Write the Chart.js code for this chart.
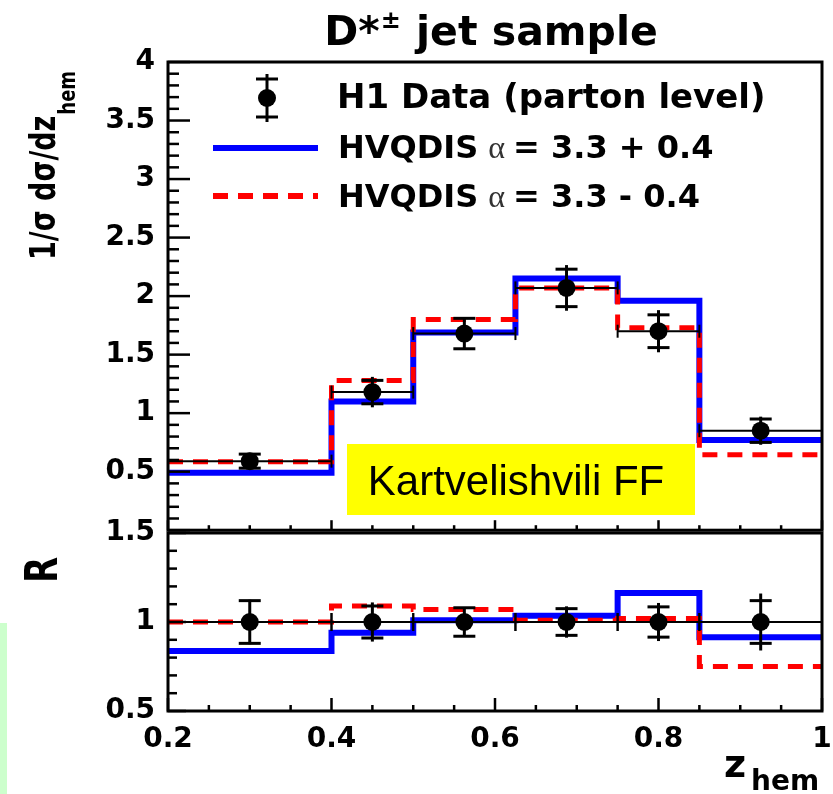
<!DOCTYPE html>
<html>
<head>
<meta charset="UTF-8">
<title>D*± jet sample</title>
<script src="https://cdn.jsdelivr.net/npm/chart.js@4"></script>
<style>
  body { margin: 0; background: #fff; }
  #wrap { position: relative; width: 833px; height: 794px; overflow: hidden; }
  #greenBar { position: absolute; left: 0; top: 623px; width: 7px; height: 171px; background: #ccffcc; }
  #topPanel { position: absolute; left: 0; top: 0; }
  #ratioPanel { position: absolute; left: 0; top: 500px; }
</style>
</head>
<body>
<div id="wrap">
  <div id="greenBar"></div>
  <canvas id="topPanel" width="833" height="560"></canvas>
  <canvas id="ratioPanel" width="833" height="294"></canvas>
</div>
<script>
// z_hem binning
const binEdges = [0.2, 0.4, 0.5, 0.625, 0.75, 0.85, 1.0];
const binCentres = [0.3, 0.45, 0.5625, 0.6875, 0.8, 0.925];

// 1/sigma dsigma/dz_hem
const h1Data = [0.59, 1.18, 1.68, 2.07, 1.70, 0.85];
const h1Stat = [0.06, 0.10, 0.13, 0.16, 0.14, 0.10];
const h1Tot = [0.07, 0.13, 0.135, 0.195, 0.18, 0.12];
const hvqUp = [0.49, 1.10, 1.69, 2.15, 1.96, 0.77];     // alpha = 3.3 + 0.4
const hvqDown = [0.585, 1.28, 1.80, 2.07, 1.73, 0.645]; // alpha = 3.3 - 0.4

// ratio R (to data)
const ratioData = [1, 1, 1, 1, 1, 1];
const ratioStat = [0.12, 0.09, 0.08, 0.075, 0.085, 0.12];
const ratioTot = [0.125, 0.11, 0.08, 0.088, 0.107, 0.16];
const ratioUp = [0.837, 0.94, 1.01, 1.035, 1.163, 0.915];
const ratioDown = [1.0, 1.09, 1.07, 1.01, 1.02, 0.75];

// axis ticks
const xTicks = [0.2, 0.4, 0.6, 0.8, 1];
const yTicksTop = [0.5, 1, 1.5, 2, 2.5, 3, 3.5, 4];
const yTicksRatio = [0.5, 1, 1.5];

const FAM = '"DejaVu Sans", sans-serif';
const tickFont = { family: FAM, weight: 'bold', size: 28 };

function seg(ctx, x1, y1, x2, y2) {
  ctx.beginPath();
  ctx.moveTo(x1, y1);
  ctx.lineTo(x2, y2);
  ctx.stroke();
}

// histogram outline: one point per left edge + closing point at the last edge
function stepPoints(vals) {
  return binEdges.map((e, i) => ({ x: e, y: vals[Math.min(i, vals.length - 1)] }));
}

function centrePoints(vals) {
  return binCentres.map((c, i) => ({ x: c, y: vals[i] }));
}

function datasets(vals, up, down) {
  return [
    { label: 'H1 Data (parton level)', data: centrePoints(vals), showLine: false,
      pointRadius: 9, pointBackgroundColor: '#000', pointBorderWidth: 0, order: 0 },
    { label: 'HVQDIS α = 3.3 - 0.4', data: stepPoints(down), stepped: true, borderColor: '#ff0000',
      borderWidth: 5, borderDash: [15, 10], pointRadius: 0, fill: false, order: 1 },
    { label: 'HVQDIS α = 3.3 + 0.4', data: stepPoints(up), stepped: true, borderColor: '#0000ff',
      borderWidth: 6, pointRadius: 0, fill: false, order: 2 }
  ];
}

// data error bars: horizontal bin width + stat ticks + total line
function errorPlugin(vals, stat, tot, endTick) {
  return {
    id: 'errbars',
    afterDatasetsDraw(chart) {
      const { ctx, scales: { x, y } } = chart;
      ctx.save();
      ctx.strokeStyle = '#000';
      vals.forEach((v, i) => {
        const py = y.getPixelForValue(v);
        const xl = x.getPixelForValue(binEdges[i]);
        const xr = x.getPixelForValue(binEdges[i + 1]);
        const px = x.getPixelForValue(binCentres[i]);
        ctx.lineWidth = 2;
        seg(ctx, xl, py, xr, py);
        seg(ctx, xl, py - endTick / 2, xl, py + endTick / 2);
        seg(ctx, xr, py - endTick / 2, xr, py + endTick / 2);
        ctx.lineWidth = 3;
        seg(ctx, px, y.getPixelForValue(v + tot[i]), px, y.getPixelForValue(v - tot[i]));
        [1, -1].forEach(s => {
          const ps = y.getPixelForValue(v + s * stat[i]);
          seg(ctx, px - 11, ps, px + 11, ps);
        });
      });
      ctx.restore();
    }
  };
}

// frame with inward ticks on left and bottom
function framePlugin(cfg) {
  return {
    id: 'frame',
    afterDatasetsDraw(chart) {
      const { ctx, chartArea: a, scales: { x, y } } = chart;
      ctx.save();
      ctx.strokeStyle = '#000';
      ctx.lineWidth = 2.5;
      for (let i = cfg.yFrom; i <= cfg.yTo; i++) {
        const py = y.getPixelForValue(i / 10);
        seg(ctx, a.left, py, a.left + (i % 5 === 0 ? cfg.yMajor : cfg.yMinor), py);
      }
      for (let i = 4; i <= 20; i++) {
        const px = x.getPixelForValue(i * 0.05);
        seg(ctx, px, a.bottom, px, a.bottom - (i % 4 === 0 ? cfg.xMajor : cfg.xMinor));
      }
      ctx.lineWidth = 3;
      ctx.strokeRect(a.left, a.top, a.right - a.left, a.bottom - a.top);
      ctx.restore();
    }
  };
}

const topText = {
  id: 'topText',
  afterDraw(chart) {
    const ctx = chart.ctx;
    const a = chart.chartArea;
    ctx.save();
    ctx.fillStyle = '#000';
    ctx.textBaseline = 'alphabetic';

    // title
    const big = 'bold 41px ' + FAM, small = 'bold 24px ' + FAM;
    ctx.font = big;
    const wD = ctx.measureText('D*').width, wJ = ctx.measureText(' jet sample').width;
    ctx.font = small;
    const wPm = ctx.measureText('±').width;
    let tx = 491 - (wD + wPm + 2 + wJ) / 2;
    ctx.font = big;
    ctx.fillText('D*', tx, 45);
    ctx.font = small;
    ctx.fillText('±', tx + wD + 1, 28);
    ctx.font = big;
    ctx.fillText(' jet sample', tx + wD + wPm + 2, 45);

    // y title (slightly widened like the original)
    ctx.save();
    ctx.translate(55, 260);
    ctx.scale(1.3, 1);
    ctx.rotate(-Math.PI / 2);
    ctx.font = 'bold 27px ' + FAM;
    ctx.fillText('1/σ dσ/dz', 0, 0);
    const wy = ctx.measureText('1/σ dσ/dz').width;
    ctx.font = 'bold 18px ' + FAM;
    ctx.fillText('hem', wy + 1, 15);
    ctx.restore();

    // legend
    ctx.strokeStyle = '#000';
    ctx.lineWidth = 3;
    seg(ctx, 267, 74, 267, 122);
    seg(ctx, 256, 79, 278, 79);
    seg(ctx, 256, 117, 278, 117);
    ctx.beginPath();
    ctx.arc(267, 98, 9, 0, Math.PI * 2);
    ctx.fill();
    ctx.lineWidth = 6;
    ctx.strokeStyle = '#0000ff';
    seg(ctx, 213, 148, 318, 148);
    ctx.strokeStyle = '#ff0000';
    ctx.setLineDash([15, 10]);
    seg(ctx, 213, 196, 318, 196);
    ctx.setLineDash([]);

    const lf = 'bold 32px ' + FAM;
    ctx.font = 'bold 34px ' + FAM;
    ctx.fillText('H1 Data (parton level)', 337, 108);
    [['+ 0.4', 158], ['- 0.4', 207]].forEach(([tail, base]) => {
      let lx = 338;
      ctx.font = lf;
      ctx.fillText('HVQDIS', lx, base);
      lx += ctx.measureText('HVQDIS').width + 10;
      ctx.font = '32px "Liberation Serif", serif';
      ctx.fillStyle = '#333';
      ctx.fillText('α', lx, base);
      lx += ctx.measureText('α').width + 8;
      ctx.fillStyle = '#000';
      ctx.font = lf;
      ctx.fillText('= 3.3 ' + tail, lx, base);
    });

    // yellow label box
    ctx.fillStyle = '#ffff00';
    ctx.fillRect(a.left + 179, a.top + 382, 348, 71);
    ctx.fillStyle = '#000';
    ctx.font = '42px "Liberation Sans", Arial, sans-serif';
    ctx.textAlign = 'center';
    ctx.fillText('Kartvelishvili FF', a.left + 348, a.top + 433);
    ctx.restore();
  }
};

const ratioText = {
  id: 'ratioText',
  afterDraw(chart) {
    const ctx = chart.ctx;
    ctx.save();
    ctx.fillStyle = '#000';
    ctx.textBaseline = 'alphabetic';
    // R
    ctx.save();
    ctx.translate(57, 70);
    ctx.scale(1.3, 1);
    ctx.rotate(-Math.PI / 2);
    ctx.font = 'bold 34px ' + FAM;
    ctx.textAlign = 'center';
    ctx.fillText('R', 0, 0);
    ctx.restore();
    // z_hem
    ctx.font = 'bold 38px ' + FAM;
    ctx.fillText('z', 724, 277);
    ctx.font = 'bold 28px ' + FAM;
    ctx.fillText('hem', 751, 290);
    ctx.restore();
  }
};

// keep tick-label overhang from shrinking the plot area
function noPad(s) { s.paddingLeft = 0; s.paddingRight = 0; }

function yAxis(min, max, ticksArr) {
  return {
    type: 'linear', min, max,
    afterBuildTicks: s => { s.ticks = ticksArr.map(v => ({ value: v })); },
    afterFit: s => { s.width = 168; },
    grid: { display: false, drawTicks: false },
    border: { display: false },
    ticks: { font: tickFont, color: '#000', padding: 13, callback: v => String(v) }
  };
}

new Chart(document.getElementById('topPanel'), {
  type: 'line',
  data: { datasets: datasets(h1Data, hvqUp, hvqDown) },
  options: {
    responsive: false,
    animation: false,
    layout: { padding: { top: 62, right: 11, bottom: 26, left: 0 } },
    plugins: { legend: { display: false }, tooltip: { enabled: false } },
    scales: {
      x: { type: 'linear', min: 0.2, max: 1, display: false, ticks: { display: false }, afterFit: noPad },
      y: yAxis(0, 4, yTicksTop)
    }
  },
  plugins: [errorPlugin(h1Data, h1Stat, h1Tot, 13),
            framePlugin({ yFrom: 0, yTo: 40, yMajor: 22, yMinor: 11, xMajor: 10, xMinor: 5 }),
            topText]
});

new Chart(document.getElementById('ratioPanel'), {
  type: 'line',
  data: { datasets: datasets(ratioData, ratioUp, ratioDown) },
  options: {
    responsive: false,
    animation: false,
    layout: { padding: { top: 33, right: 11, bottom: 0, left: 0 } },
    plugins: { legend: { display: false }, tooltip: { enabled: false } },
    scales: {
      x: {
        type: 'linear', min: 0.2, max: 1,
        afterBuildTicks: s => { s.ticks = xTicks.map(v => ({ value: v })); },
        afterFit: s => { s.height = 83; noPad(s); },
        grid: { display: false, drawTicks: false },
        border: { display: false },
        ticks: { font: tickFont, color: '#000', padding: 12, maxRotation: 0, autoSkip: false,
                 callback: v => String(v) }
      },
      y: yAxis(0.5, 1.5, yTicksRatio)
    }
  },
  plugins: [errorPlugin(ratioData, ratioStat, ratioTot, 18),
            framePlugin({ yFrom: 5, yTo: 15, yMajor: 18, yMinor: 9, xMajor: 13, xMinor: 6 }),
            ratioText]
});
</script>
</body>
</html>
